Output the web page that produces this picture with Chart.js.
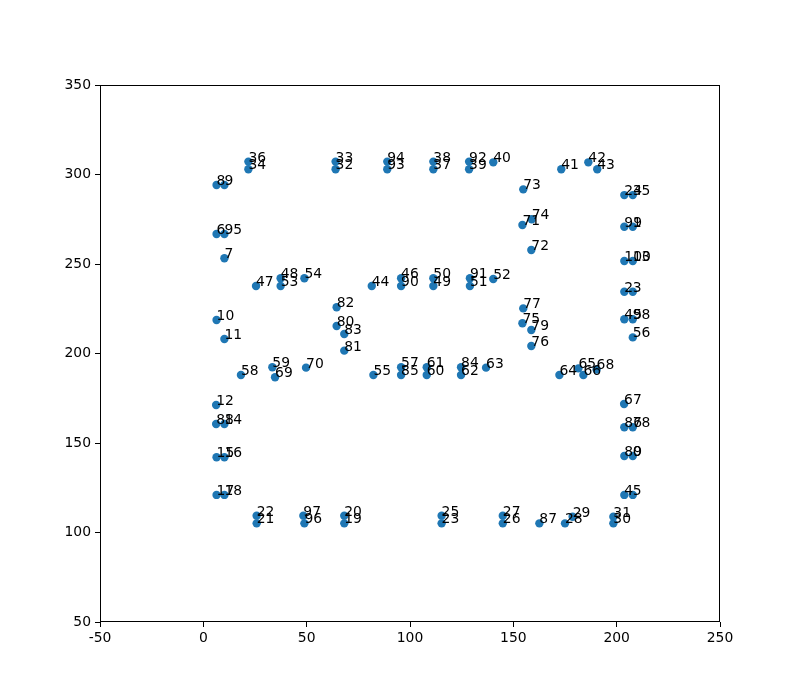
<!DOCTYPE html>
<html>
<head>
<meta charset="utf-8">
<script src="https://cdn.jsdelivr.net/npm/chart.js@4/dist/chart.umd.min.js"></script>
<style>
  html, body { margin: 0; padding: 0; background: #fff; }
  canvas { display: block; }
</style>
</head>
<body>
<canvas id="scatter" width="800" height="700"></canvas>
<script>
// point index = position in the arrays
var pointX = [
  207.8, 207.8, 203.7, 207.8, 203.7, 207.8, 6.4, 10.2, 6.4, 10.2,
  6.4, 10.2, 6.2, 207.8, 10.2, 6.4, 10.2, 6.4, 10.2, 68.2,
  68.2, 25.8, 25.8, 115.3, 203.7, 115.3, 144.9, 144.9, 175.0, 178.7,
  198.4, 198.4, 64.0, 64.0, 21.8, 207.8, 21.8, 111.3, 111.3, 128.6,
  140.3, 173.2, 186.3, 190.6, 81.5, 203.7, 95.7, 25.5, 37.4, 111.3,
  111.3, 129.0, 140.3, 37.4, 48.9, 82.3, 207.8, 95.7, 18.2, 33.4,
  108.1, 108.1, 124.7, 136.8, 172.3, 181.5, 183.9, 203.6, 190.3, 34.7,
  49.7, 154.4, 158.7, 154.8, 158.9, 154.4, 158.7, 154.8, 207.8, 158.7,
  64.5, 68.2, 64.5, 68.2, 124.7, 95.7, 203.7, 162.6, 6.2, 203.7,
  95.7, 129.0, 128.6, 89.0, 89.0, 10.2, 48.9, 48.4, 207.8, 203.7,
  203.7
];
var pointY = [
  142.7, 270.8, 234.5, 234.5, 121.0, 121.0, 266.8, 253.2, 294.1, 294.1,
  218.7, 208.1, 171.2, 251.7, 160.6, 142.0, 142.0, 121.0, 121.0, 105.1,
  109.4, 105.1, 109.4, 105.1, 288.5, 109.4, 105.1, 109.4, 105.1, 108.8,
  105.1, 108.8, 302.9, 307.2, 302.9, 288.5, 307.2, 302.9, 307.2, 302.9,
  306.8, 302.9, 306.8, 302.9, 237.7, 219.1, 242.0, 237.7, 242.0, 237.7,
  242.0, 237.7, 241.6, 237.7, 242.0, 188.0, 209.0, 192.3, 188.0, 192.3,
  188.0, 192.3, 188.0, 192.1, 188.0, 191.7, 188.0, 171.8, 191.1, 186.7,
  192.1, 271.8, 257.8, 291.7, 275.0, 216.9, 204.2, 225.2, 158.8, 213.1,
  215.4, 201.6, 225.8, 210.9, 192.3, 188.0, 158.8, 105.1, 160.6, 142.7,
  237.7, 242.0, 307.2, 302.9, 307.2, 266.8, 105.1, 109.4, 219.1, 270.8,
  251.7
];
var pointLabels = pointX.map(function (v, i) { return String(i); });

var xTicks = [-50, 0, 50, 100, 150, 200, 250];
var yTicks = [50, 100, 150, 200, 250, 300, 350];

var tickFont = { family: 'DejaVu Sans', size: 13.9 };

var points = [];
for (var i = 0; i < pointX.length; i++) {
  points.push({ x: pointX[i], y: pointY[i] });
}

// writes the index next to each point, like ax.annotate
var pointText = {
  id: 'pointText',
  afterDatasetsDraw: function (chart) {
    var ctx = chart.ctx;
    var meta = chart.getDatasetMeta(0);
    ctx.save();
    ctx.fillStyle = '#000';
    ctx.font = '13.9px "DejaVu Sans"';
    ctx.textAlign = 'left';
    ctx.textBaseline = 'alphabetic';
    meta.data.forEach(function (el, i) {
      ctx.fillText(pointLabels[i], el.x, el.y);
    });
    ctx.restore();
  }
};

// box around the axes
var frame = {
  id: 'frame',
  afterDraw: function (chart) {
    var a = chart.chartArea;
    var ctx = chart.ctx;
    ctx.save();
    ctx.strokeStyle = '#000';
    ctx.lineWidth = 1;
    ctx.strokeRect(a.left + 0.5, a.top + 0.5, a.right - a.left - 1, a.bottom - a.top - 1);
    ctx.restore();
  }
};

var chart_scatter = new Chart(document.getElementById('scatter').getContext('2d'), {
  type: 'scatter',
  data: {
    datasets: [{
      data: points,
      backgroundColor: '#1f77b4',
      borderWidth: 0,
      pointRadius: 4.2,
      pointHoverRadius: 4.2
    }]
  },
  options: {
    responsive: false,
    animation: false,
    devicePixelRatio: 1,
    layout: { padding: { left: 0, top: 85, right: 80, bottom: 0 } },
    plugins: { legend: { display: false }, tooltip: { enabled: false } },
    scales: {
      x: {
        type: 'linear',
        min: -50,
        max: 250,
        afterBuildTicks: function (scale) {
          scale.ticks = xTicks.map(function (v) { return { value: v }; });
        },
        afterFit: function (scale) { scale.height = 78; },
        grid: { drawOnChartArea: false, drawTicks: true, tickLength: 5, color: '#000' },
        border: { display: false },
        ticks: { color: '#000', font: tickFont, padding: 3, maxRotation: 0 }
      },
      y: {
        type: 'linear',
        min: 50,
        max: 350,
        afterBuildTicks: function (scale) {
          scale.ticks = yTicks.map(function (v) { return { value: v }; });
        },
        afterFit: function (scale) { scale.width = 100; },
        grid: { drawOnChartArea: false, drawTicks: true, tickLength: 5, color: '#000' },
        border: { display: false },
        ticks: { color: '#000', font: tickFont, padding: 4 }
      }
    }
  },
  plugins: [pointText, frame]
});
</script>
</body>
</html>
